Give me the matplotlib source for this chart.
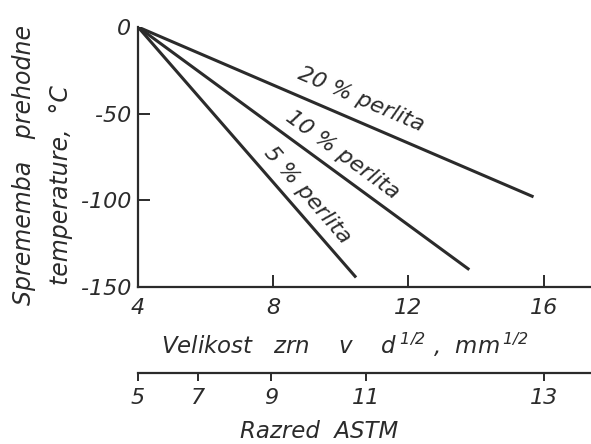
import numpy as np
import matplotlib
matplotlib.use("Agg")
from matplotlib import pyplot as plt

# podatki (odcitano s slike)
x_start = [4.0, 4.0, 4.0]
y_start = [0.0, 0.0, 0.0]
x_end = [10.45, 13.8, 15.7]
y_end = [-144.5, -140.0, -98.0]
labels = ["5 % perlita", "10 % perlita", "20 % perlita"]

x_ticks = [4, 8, 12, 16]
y_ticks = [0, -50, -100, -150]

# ASTM razred in ustrezna velikost zrn d^-1/2
astm_vals = [5, 7, 9, 11, 13]
astm_pos = [4.0, 5.78, 7.93, 10.75, 16.0]

col = "#2b2b2b"
plt.rcParams['font.family'] = ['DejaVu Sans']
plt.rcParams['font.style'] = 'italic'
plt.rcParams['mathtext.fontset'] = 'custom'
plt.rcParams['mathtext.it'] = 'DejaVu Sans:italic'
plt.rcParams['mathtext.rm'] = 'DejaVu Sans:italic'
plt.rcParams['text.color'] = col

W, H = 591, 444
fig = plt.figure(figsize=(W / 100, H / 100), dpi=100)

left = 138 / W
ax = fig.add_axes([left, 1 - 287 / H, 1 - left, (287 - 27) / H])
for i in range(len(labels)):
    ax.plot([x_start[i], x_end[i]], [y_start[i], y_end[i]], color=col, lw=2.2,
            solid_capstyle='butt')

ax.set_xlim(4, 17.4)
ax.set_ylim(-150, 0)
ax.spines['top'].set_visible(False)
ax.spines['right'].set_visible(False)
for s in ['left', 'bottom']:
    ax.spines[s].set_linewidth(1.6)
    ax.spines[s].set_color(col)
ax.set_xticks(x_ticks)
ax.set_yticks(y_ticks)
ax.set_xticklabels([str(v) for v in x_ticks])
ax.set_yticklabels([str(v) for v in y_ticks])
ax.tick_params(axis='x', direction='in', length=9, width=1.4, color=col, pad=8,
               labelsize=16, labelcolor=col)
ax.tick_params(axis='y', direction='in', length=8.5, width=1.4, color=col, pad=5,
               labelsize=16, labelcolor=col)
# brez notranje kljukice pri 0 in -150
ax.yaxis.get_major_ticks()[0].tick1line.set_visible(False)
ax.yaxis.get_major_ticks()[3].tick1line.set_visible(False)
ax.xaxis.get_major_ticks()[0].tick1line.set_visible(False)

# napisi ob premicah
lab_pos = [(9.0, -97), (10.05, -74), (10.6, -42)]
for i in range(len(labels)):
    ang = np.degrees(np.arctan2(y_end[i] - y_start[i], x_end[i] - x_start[i]))
    ax.text(lab_pos[i][0], lab_pos[i][1], labels[i], rotation=ang,
            transform_rotates_text=True, rotation_mode='anchor',
            ha='center', va='center', fontsize=16, color=col)

# druga skala (ASTM)
ax2 = fig.add_axes([left, 1 - 373 / H, 1 - left, 1e-6])
ax2.set_xlim(ax.get_xlim())
ax2.set_ylim(0, 1)
for s in ['top', 'left', 'right']:
    ax2.spines[s].set_visible(False)
ax2.spines['bottom'].set_linewidth(1.6)
ax2.spines['bottom'].set_color(col)
ax2.set_yticks([])
ax2.set_xticks(astm_pos)
ax2.set_xticklabels([str(v) for v in astm_vals])
ax2.tick_params(axis='x', direction='out', length=6, width=1.4, color=col, pad=5,
                labelsize=16, labelcolor=col)
ax2.patch.set_visible(False)

fig.text(345 / W, 1 - 345 / H, r"Velikost   zrn    v    $d^{\,1/2}$ ,  mm$^{\,1/2}$",
         ha='center', va='center', fontsize=16.5)
fig.text(319 / W, 1 - 431 / H, "Razred  ASTM", ha='center', va='center', fontsize=16.5)

fig.text(24 / W, 1 - 165 / H, "Sprememba   prehodne", rotation=90,
         ha='center', va='center', fontsize=17)
fig.text(61 / W, 1 - 185 / H, "temperature,  °C", rotation=90,
         ha='center', va='center', fontsize=17)

fig.savefig("out.png", dpi=100)
